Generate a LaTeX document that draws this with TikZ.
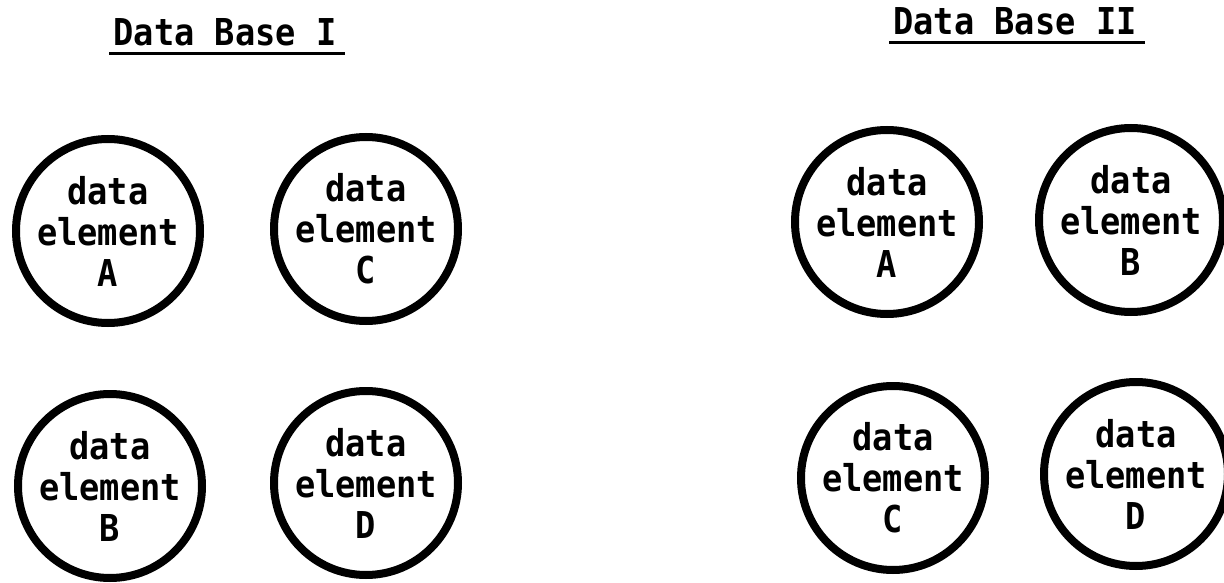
\documentclass[tikz,border=0pt]{standalone}
\usepackage{fontspec}
\newfontfamily\typewheel{DejaVu Sans Mono}[FakeStretch=0.91]
\tikzset{>=latex}
\tikzset{
  elem/.style={draw, circle, line width=8pt, minimum size=184pt, inner sep=0pt,
    align=center, font=\typewheel\bfseries\fontsize{37}{41}\selectfont},
  dbtitle/.style={anchor=base, inner sep=0pt,
    font=\typewheel\bfseries\fontsize{37}{41}\selectfont},
  rule/.style={line width=3pt}
}

\begin{document}
\begin{tikzpicture}[x=1pt, y=-1pt]
    \useasboundingbox(0, 0)rectangle(1224, 583);
    % Data Base I
    \node[dbtitle](dbI)at(225, 46){Data Base I};
    \draw[rule]([xshift=-4pt, yshift=-8pt]dbI.base west)--([xshift=8pt, yshift=-8pt]dbI.base east);
    \node[elem](a1)at(108, 231){data\\element\\A};
    \node[elem](c1)at(366, 229){data\\element\\C};
    \node[elem](b1)at(110, 486){data\\element\\B};
    \node[elem](d1)at(366, 483){data\\element\\D};
    % Data Base II
    \node[dbtitle](dbII)at(1015, 35){Data Base II};
    \draw[rule]([xshift=-4pt, yshift=-8pt]dbII.base west)--([xshift=8pt, yshift=-8pt]dbII.base east);
    \node[elem](a2)at(887, 222){data\\element\\A};
    \node[elem](b2)at(1131, 220){data\\element\\B};
    \node[elem](c2)at(893, 478){data\\element\\C};
    \node[elem](d2)at(1136, 474){data\\element\\D};
\end{tikzpicture}
\end{document}
